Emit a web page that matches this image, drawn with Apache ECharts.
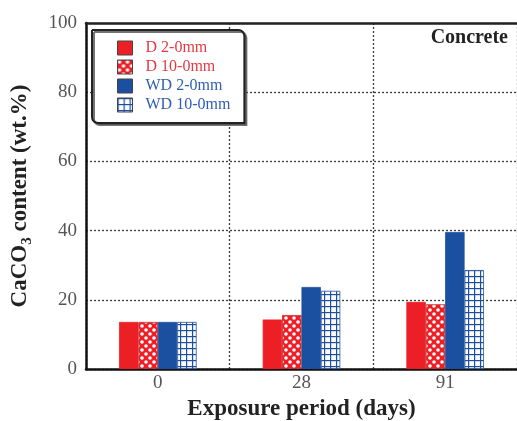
<!DOCTYPE html>
<html>
<head>
<meta charset="utf-8">
<script src="https://cdn.jsdelivr.net/npm/echarts@6/dist/echarts.min.js"></script>
<style>html,body{margin:0;padding:0;background:#fff}#c{width:517px;height:421px}</style>
</head>
<body>
<div id="c"></div>
<script>
const categories = ['0', '28', '91'];
const seriesNames = ['D 2-0mm', 'D 10-0mm', 'WD 2-0mm', 'WD 10-0mm'];
const d2 = [13.6, 14.3, 19.4];
const d10 = [13.6, 15.6, 18.7];
const wd2 = [13.6, 23.7, 39.6];
const wd10 = [13.6, 22.6, 28.6];
const yTicks = [0, 20, 40, 60, 80, 100];

const RED = '#ec1f26';
const BLUE = '#1b4f9f';
const SERIF = '"Liberation Serif", "DejaVu Serif", serif';

function circlePattern() {
  const c = document.createElement('canvas');
  c.width = 8; c.height = 8;
  const g = c.getContext('2d');
  g.fillStyle = RED; g.fillRect(0, 0, 8, 8);
  g.fillStyle = '#fff';
  [[2, 2], [6, 6]].forEach(p => { g.beginPath(); g.arc(p[0], p[1], 1.8, 0, Math.PI * 2); g.fill(); });
  return { image: c, repeat: 'repeat' };
}
function gridPattern() {
  const c = document.createElement('canvas');
  c.width = 6; c.height = 6;
  const g = c.getContext('2d');
  g.fillStyle = '#fff'; g.fillRect(0, 0, 6, 6);
  g.fillStyle = BLUE;
  g.fillRect(0, 0, 6, 1.2);
  g.fillRect(0, 0, 1.2, 6);
  return { image: c, repeat: 'repeat' };
}

const styles = [
  { color: RED, borderColor: RED },
  { color: circlePattern(), borderColor: '#c0282c' },
  { color: BLUE, borderColor: BLUE },
  { color: gridPattern(), borderColor: '#2a4f90' }
];
const values = [d2, d10, wd2, wd10];
const textColors = ['#e53a43', '#e53a43', '#2f5fae', '#2f5fae'];

const chart = echarts.init(document.getElementById('c'), null, { renderer: 'canvas' });
const dotted = { color: '#3a3a3a', width: 1.3, type: [2, 2] };

chart.setOption({
  animation: false,
  backgroundColor: '#fff',
  title: {
    text: 'Concrete', right: 4, top: 23,
    textStyle: { fontFamily: SERIF, fontWeight: 'bold', fontSize: 20, color: '#222' }
  },
  grid: { left: 86, right: 0, top: 23, bottom: 52, containLabel: false, outerBoundsMode: 'none' },
  legend: {
    orient: 'vertical', left: 92, top: 30,
    itemWidth: 15, itemHeight: 14, itemGap: 3,
    padding: [10, 14, 10, 25],
    backgroundColor: '#fff', borderColor: '#222', borderWidth: 2,
    borderRadius: [0, 6, 0, 6],
    shadowColor: 'rgba(80,80,80,0.8)', shadowOffsetX: 2, shadowOffsetY: 2, shadowBlur: 0,
    icon: 'rect',
    itemStyle: { borderColor: '#444', borderWidth: 1 },
    data: seriesNames.map((n, i) => ({
      name: n,
      textStyle: { color: textColors[i], fontFamily: SERIF, fontSize: 16, padding: [0, 0, 0, 8] }
    }))
  },
  xAxis: [{
    type: 'category', data: categories,
    name: 'Exposure period (days)', nameLocation: 'middle', nameGap: 26,
    nameTextStyle: { fontFamily: SERIF, fontWeight: 'bold', fontSize: 23, color: '#222' },
    axisLine: { lineStyle: { color: '#111', width: 2.5 } },
    axisTick: { inside: true, length: 7, lineStyle: { color: '#111', width: 2.5 } },
    axisLabel: { fontFamily: SERIF, fontSize: 19, color: '#555', margin: 5 },
    splitLine: { show: true, lineStyle: dotted }
  }, {
    type: 'category', data: categories, position: 'top',
    axisLine: { show: true, lineStyle: { color: '#222', width: 2.5 } },
    axisTick: { show: false }, axisLabel: { show: false }, splitLine: { show: false }
  }],
  yAxis: {
    type: 'value', min: 0, max: 100, interval: 20,
    name: '{m|CaCO}{s|3}{m| content (wt.%)}', nameLocation: 'middle', nameGap: 51, nameRotate: 90,
    nameTextStyle: {
      rich: {
        m: { fontFamily: SERIF, fontWeight: 'bold', fontSize: 23, color: '#222', lineHeight: 26 },
        s: { fontFamily: SERIF, fontWeight: 'bold', fontSize: 15, color: '#222', padding: [14, 0, 0, 0] }
      }
    },
    axisLine: { show: true, lineStyle: { color: '#111', width: 2.5 } },
    axisTick: { inside: true, length: 7, lineStyle: { color: '#111', width: 2 } },
    axisLabel: {
      fontFamily: SERIF, fontSize: 19, color: '#555', margin: 9,
      formatter: v => yTicks.includes(v) ? String(v) : ''
    },
    splitLine: { show: true, lineStyle: dotted }
  },
  series: seriesNames.map((n, i) => ({
    name: n, type: 'bar', data: values[i],
    barGap: '0%', barCategoryGap: '46%',
    itemStyle: Object.assign({ borderWidth: 0.8 }, styles[i])
  }))
});
</script>
</body>
</html>
